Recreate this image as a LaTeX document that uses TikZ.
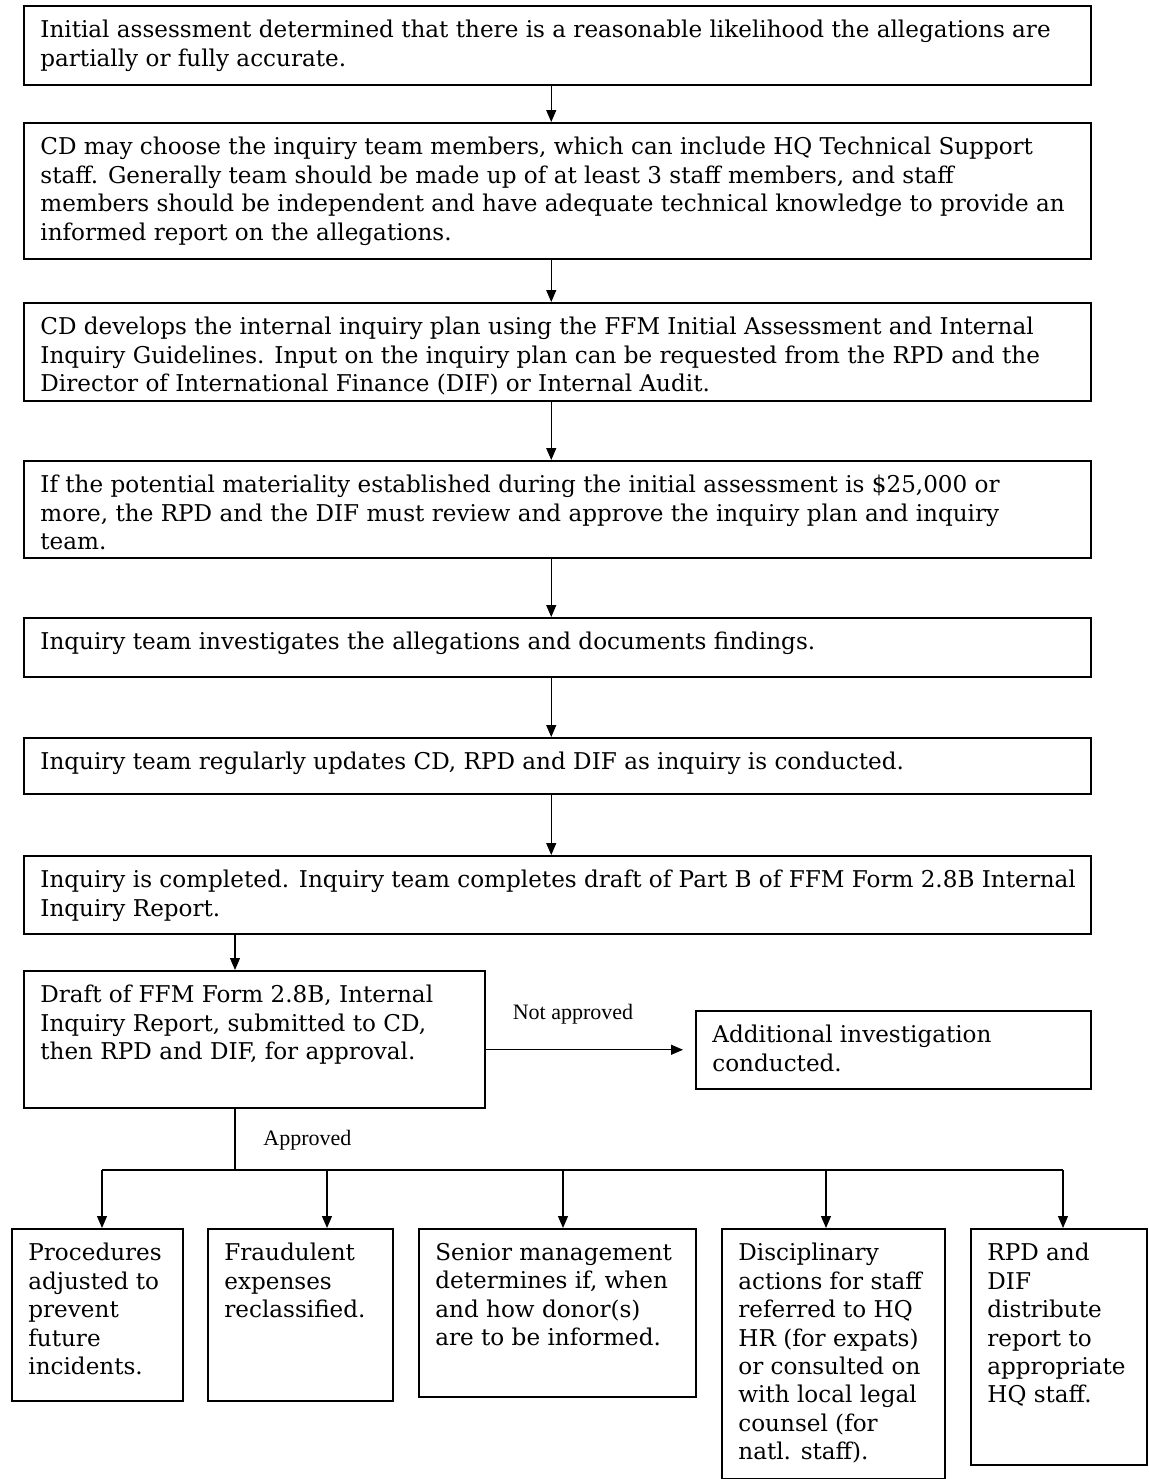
\documentclass[tikz,border=0pt]{standalone}
\usepackage{fontspec}
\setmainfont{DejaVu Serif}
\newfontfamily\labelfont{Liberation Serif}
\usepackage{tikz}
\usetikzlibrary{arrows.meta,positioning,calc}
\tikzset{
  box/.style={draw,line width=0.75pt,inner sep=0pt,anchor=north west},
  boxtext/.style={anchor=north west,align=left,inner sep=0pt,
    font=\fontsize{11.55}{14.2}\selectfont},
  arr/.style={line width=0.6pt,-{Triangle[length=6pt,width=5pt]}},
  lbl/.style={inner sep=0pt,font=\labelfont\fontsize{11}{12}\selectfont}
}
% box with its text set at the top left corner
\newcommand{\flowbox}[6]{%
  \node[box,minimum width=#4*0.5pt,minimum height=#5*0.5pt] (#1) at (#2,#3) {};
  \node[boxtext] (#1t) at ([shift={(17,15)}]#1.north west) {#6};}

\begin{document}
\begin{tikzpicture}[x=0.5pt,y=-0.5pt]
  \useasboundingbox (0,0) rectangle (1148,1479);

  % main column of steps
  \flowbox{b1}{23}{5}{1067}{79}{Initial assessment determined that there is a reasonable likelihood the allegations are\\
    partially or fully accurate.}
  \flowbox{b2}{23}{122}{1067}{136}{CD may choose the inquiry team members, which can include HQ Technical Support\\
    staff. Generally team should be made up of at least 3 staff members, and staff\\
    members should be independent and have adequate technical knowledge to provide an\\
    informed report on the allegations.}
  \flowbox{b3}{23}{302}{1067}{98}{CD develops the internal inquiry plan using the FFM Initial Assessment and Internal\\
    Inquiry Guidelines. Input on the inquiry plan can be requested from the RPD and the\\
    Director of International Finance (DIF) or Internal Audit.}
  \flowbox{b4}{23}{460}{1067}{97}{If the potential materiality established during the initial assessment is \$25,000 or\\
    more, the RPD and the DIF must review and approve the inquiry plan and inquiry\\
    team.}
  \flowbox{b5}{23}{617}{1067}{59}{Inquiry team investigates the allegations and documents findings.}
  \flowbox{b6}{23}{737}{1067}{56}{Inquiry team regularly updates CD, RPD and DIF as inquiry is conducted.}
  \flowbox{b7}{23}{855}{1067}{78}{Inquiry is completed. Inquiry team completes draft of Part B of FFM Form 2.8B Internal\\
    Inquiry Report.}
  \flowbox{b8}{23}{970}{461}{137}{Draft of FFM Form 2.8B, Internal\\
    Inquiry Report, submitted to CD,\\
    then RPD and DIF, for approval.}
  \flowbox{b9}{695}{1010}{395}{78}{Additional investigation\\
    conducted.}

  % outcomes
  \flowbox{c1}{11}{1228}{171}{172}{Procedures\\ adjusted to\\ prevent\\ future\\ incidents.}
  \flowbox{c2}{207}{1228}{185}{172}{Fraudulent\\ expenses\\ reclassified.}
  \flowbox{c3}{418}{1228}{277}{168}{Senior management\\ determines if, when\\ and how donor(s)\\ are to be informed.}
  \flowbox{c4}{721}{1228}{223}{250}{Disciplinary\\ actions for staff\\ referred to HQ\\ HR (for expats)\\ or consulted on\\ with local legal\\ counsel (for\\ natl. staff).}
  \flowbox{c5}{970}{1228}{176}{236}{RPD and\\ DIF\\ distribute\\ report to\\ appropriate\\ HQ staff.}

  % arrows down the column
  \foreach \a/\b in {b1/b2,b2/b3,b3/b4,b4/b5,b5/b6,b6/b7}
    \draw[arr] ([xshift=-3pt]\a.south) -- ([xshift=-3pt]\b.north);
  \coordinate (bus) at (235,1170);
  \draw[arr] (bus |- b7.south) -- (bus |- b8.north);

  % not approved branch
  \draw[arr,shorten >=6pt] (b8.east |- b9.west) -- (b9.west);
  \node[lbl,anchor=base] (notok) at (573,1019) {Not approved};

  % approved branch, split over the outcomes
  \draw[line width=0.6pt] (bus |- b8.south) -- (bus);
  \node[lbl,anchor=base west] (ok) at (263,1145) {Approved};
  \foreach \n/\x in {c1/102,c2/327,c3/563,c4/826,c5/1063}{
    \coordinate (t\n) at (\x,1170);
    \draw[arr] (t\n) -- (t\n |- \n.north);
  }
  \draw[line width=0.6pt] (tc1) -- (tc5);
\end{tikzpicture}
\end{document}
